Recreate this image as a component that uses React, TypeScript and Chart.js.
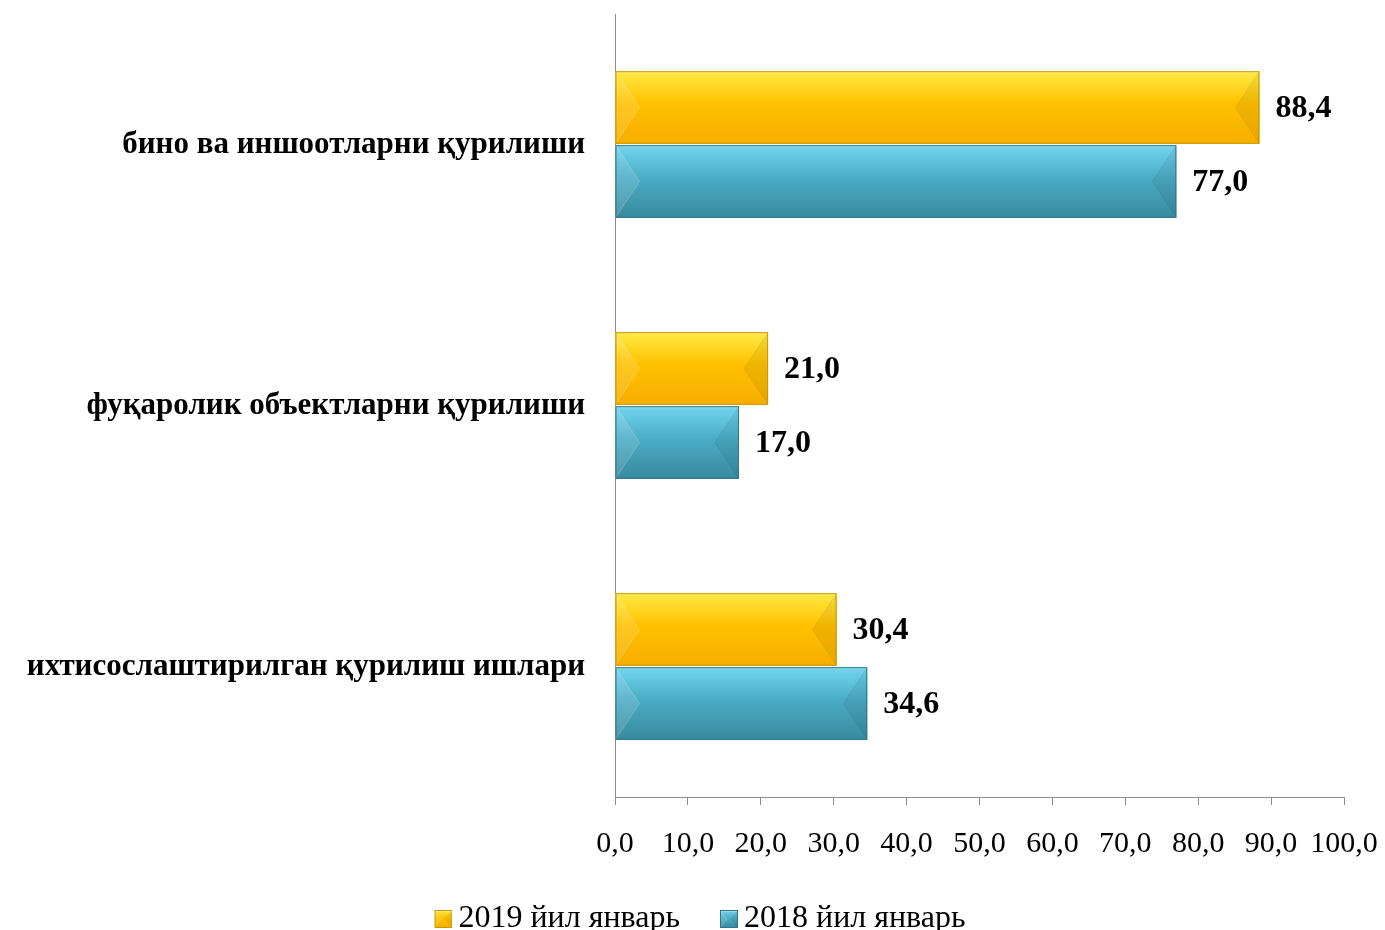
import React, { useEffect, useRef } from "react";
import { Chart, registerables } from "chart.js";

Chart.register(...registerables);

const categories = [
  "бино ва иншоотларни қурилиши",
  "фуқаролик объектларни қурилиши",
  "ихтисослаштирилган қурилиш ишлари",
];
const seriesNames = ["2019 йил январь", "2018 йил январь"];
const values2019 = [88.4, 21.0, 30.4];
const values2018 = [77.0, 17.0, 34.6];
const xTicks = [0, 10, 20, 30, 40, 50, 60, 70, 80, 90, 100];

const FONT = "'Liberation Serif', 'Times New Roman', serif";
const fmt = (v: number) => v.toFixed(1).replace(".", ",");

const palettes = [
  { base: "#FFC000", top: "#FFEA45", bottom: "#F7AE00", border: "#C99700" },
  { base: "#4BACC6", top: "#72D6EE", bottom: "#388A9E", border: "#2F7688" },
];

function drawBevelRect(
  ctx: CanvasRenderingContext2D,
  x0: number,
  x1: number,
  y0: number,
  y1: number,
  p: { top: string; bottom: string; base: string; border: string },
  b: number
) {
  const h = y1 - y0;
  const ym = (y0 + y1) / 2;
  const g = ctx.createLinearGradient(0, y0, 0, y1);
  g.addColorStop(0, p.top);
  g.addColorStop(0.45, p.base);
  g.addColorStop(1, p.bottom);
  ctx.fillStyle = g;
  ctx.fillRect(x0, y0, x1 - x0, h);
  // left bevel (light)
  ctx.fillStyle = "rgba(255,255,255,0.12)";
  ctx.beginPath();
  ctx.moveTo(x0, y0);
  ctx.lineTo(x0 + b, ym);
  ctx.lineTo(x0, y1);
  ctx.closePath();
  ctx.fill();
  // right bevel (dark)
  ctx.fillStyle = "rgba(0,0,0,0.06)";
  ctx.beginPath();
  ctx.moveTo(x1, y0);
  ctx.lineTo(x1 - b, ym);
  ctx.lineTo(x1, y1);
  ctx.closePath();
  ctx.fill();
  // diagonal hint lines
  ctx.strokeStyle = "rgba(255,255,255,0.18)";
  ctx.lineWidth = 1;
  ctx.beginPath();
  ctx.moveTo(x0, y0);
  ctx.lineTo(x0 + b, ym);
  ctx.lineTo(x0, y1);
  ctx.stroke();
  ctx.strokeStyle = "rgba(0,0,0,0.06)";
  ctx.beginPath();
  ctx.moveTo(x1, y0);
  ctx.lineTo(x1 - b, ym);
  ctx.lineTo(x1, y1);
  ctx.stroke();
  // top highlight strip
  ctx.fillStyle = "rgba(255,255,255,0.25)";
  ctx.fillRect(x0, y0, x1 - x0, 2);
  // border
  ctx.strokeStyle = p.border;
  ctx.lineWidth = 1;
  ctx.strokeRect(x0 + 0.5, y0 + 0.5, x1 - x0 - 1, h - 1);
}

// icon canvas: transparent margin on the left, 18px bevel box on the right
function makeLegendIcon(p: (typeof palettes)[number]) {
  const c = document.createElement("canvas");
  c.width = 28;
  c.height = 18;
  const ctx = c.getContext("2d")!;
  drawBevelRect(ctx, 10, 28, 0, 18, p, 7);
  return c;
}

const bevelPlugin = {
  id: "bevelBars",
  afterDatasetsDraw(chart: any) {
    const ctx = chart.ctx as CanvasRenderingContext2D;
    ctx.save();
    chart.data.datasets.forEach((_ds: any, di: number) => {
      const meta = chart.getDatasetMeta(di);
      const p = palettes[di];
      meta.data.forEach((el: any) => {
        const x0 = Math.min(el.base, el.x);
        const x1 = Math.max(el.base, el.x);
        const y0 = el.y - el.height / 2;
        const y1 = el.y + el.height / 2;
        drawBevelRect(ctx, x0, x1, y0, y1, p, 24);
      });
    });
    ctx.restore();
  },
};

const labelPlugin = {
  id: "valueLabels",
  afterDatasetsDraw(chart: any) {
    const ctx = chart.ctx as CanvasRenderingContext2D;
    ctx.save();
    ctx.font = `bold 32px ${FONT}`;
    ctx.fillStyle = "#000";
    ctx.textAlign = "left";
    ctx.textBaseline = "middle";
    chart.data.datasets.forEach((ds: any, di: number) => {
      const meta = chart.getDatasetMeta(di);
      meta.data.forEach((el: any, i: number) => {
        ctx.fillText(fmt(ds.data[i]), el.x + 16, el.y + 1);
      });
    });
    ctx.restore();
  },
};

const legendShiftPlugin = {
  id: "legendShift",
  afterLayout(chart: any) {
    const lg = chart.legend;
    if (lg) {
      lg.left += 28;
      lg.right += 28;
    }
  },
};

export default function App() {
  const ref = useRef<HTMLCanvasElement>(null);

  useEffect(() => {
    if (!ref.current) return;
    const icons = palettes.map(makeLegendIcon);
    const chart = new Chart(ref.current, {
      type: "bar",
      data: {
        labels: categories,
        datasets: [
          {
            label: seriesNames[0],
            data: values2019,
            backgroundColor: palettes[0].base,
            borderColor: palettes[0].border,
            borderWidth: 1,
          },
          {
            label: seriesNames[1],
            data: values2018,
            backgroundColor: palettes[1].base,
            borderColor: palettes[1].border,
            borderWidth: 1,
          },
        ],
      },
      options: {
        indexAxis: "y",
        responsive: false,
        animation: false,
        datasets: {
          bar: { categoryPercentage: 0.567, barPercentage: 0.98 },
        },
        layout: { padding: { top: 14, left: 0, right: 41, bottom: 0 } },
        scales: {
          x: {
            type: "linear",
            min: 0,
            max: 100,
            afterBuildTicks: (scale: any) => {
              scale.ticks = xTicks.map((v) => ({ value: v }));
            },
            afterFit: (scale: any) => {
              scale.height = 66;
              scale.paddingLeft = 0;
              scale.paddingRight = 0;
            },
            grid: {
              display: true,
              drawOnChartArea: false,
              drawTicks: true,
              tickLength: 8,
              color: "#8c8c8c",
            },
            border: { display: true, color: "#8c8c8c", width: 1 },
            ticks: {
              autoSkip: false,
              maxRotation: 0,
              padding: 21,
              color: "#000",
              font: { family: FONT, size: 30 },
              callback: (v: any) => fmt(Number(v)),
            },
          },
          y: {
            afterFit: (scale: any) => {
              scale.width = 615;
              scale.paddingTop = 0;
              scale.paddingBottom = 0;
            },
            grid: { display: false, drawTicks: false },
            border: { display: true, color: "#8c8c8c", width: 1 },
            ticks: {
              padding: 30,
              color: "#000",
              font: { family: FONT, size: 31, weight: "bold" },
            },
          },
        },
        plugins: {
          tooltip: { enabled: false },
          legend: {
            display: true,
            position: "bottom",
            labels: {
              usePointStyle: true,
              pointStyleWidth: 8,
              boxWidth: 8,
              boxHeight: 18,
              padding: 40,
              color: "#000",
              font: { family: FONT, size: 32 },
              generateLabels: (c: any) => {
                const items = Chart.defaults.plugins.legend.labels.generateLabels(c);
                return items.map((it: any, i: number) => ({ ...it, pointStyle: icons[i] }));
              },
            },
          },
        },
      },
      plugins: [bevelPlugin, labelPlugin, legendShiftPlugin],
    } as any);
    return () => chart.destroy();
  }, []);

  return (
    <div
      style={{
        position: "absolute",
        left: 0,
        top: 0,
        width: 1385,
        height: 930,
        overflow: "hidden",
        background: "#fff",
      }}
    >
      <canvas ref={ref} width={1385} height={945} style={{ display: "block" }} />
    </div>
  );
}
